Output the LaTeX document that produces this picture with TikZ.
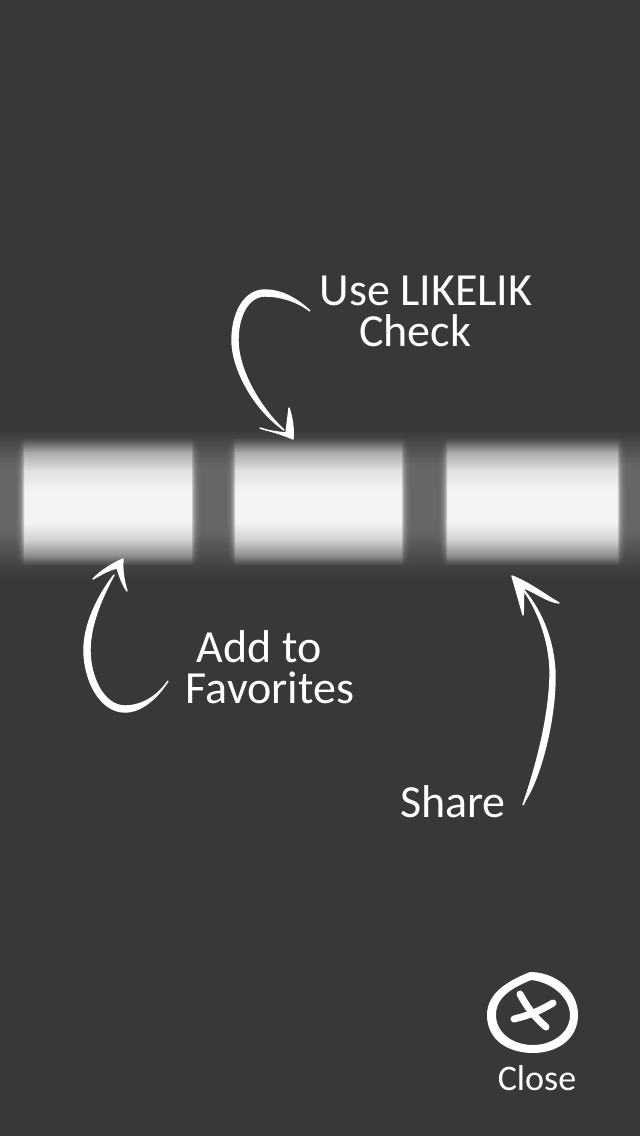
\documentclass[tikz,border=0pt]{standalone}
\usepackage{fontspec}
\setmainfont{Carlito}
\usepackage{tikz}
\usetikzlibrary{positioning}
\definecolor{figbg}{RGB}{56,56,56}
\definecolor{figgap}{RGB}{100,100,100}
\definecolor{figbox}{RGB}{243,243,243}
\definecolor{figedge}{RGB}{70,70,70}
\pgfdeclareverticalshading{gapband}{100bp}{%
  color(0bp)=(figbg); color(25bp)=(figbg); color(41bp)=(figgap);
  color(62.67bp)=(figgap); color(75bp)=(figbg); color(100bp)=(figbg)}
\tikzset{
  chalk/.style ={fill=white,draw=white,line width=1.4pt,line join=round},
  chalkx/.style={draw=white,line width=7pt,line cap=round},
  hint/.style  ={text=white,inner sep=0pt,align=center,font=\fontsize{46}{41}\selectfont},
  hintb/.style ={hint,font=\fontsize{36}{36}\selectfont},
}
% gap between two keys, blurred at both sides
\newcommand{\blurgap}[2]{%
  \foreach \k in {0,...,9}{%
    \shade[shading=gapband,opacity=0.3] (#1-2+\k,428) rectangle (#2+2-\k,578);
  }%
}
\begin{document}
\begin{tikzpicture}[x=1pt,y=-1pt]
  \useasboundingbox (0,0) rectangle (640,1136);
  \fill[figbg] (0,0) rectangle (640,1136);
  % strip behind the keys
  \shade[shading=gapband] (0,428) rectangle (640,578);
  \fill[top color=figedge,bottom color=figbox!57!figedge] (0,438) rectangle (640,452.5);
  \fill[top color=figbox!57!figedge,bottom color=figbox!89!figedge] (0,452) rectangle (640,470.5);
  \fill[top color=figbox!89!figedge,bottom color=figbox] (0,470) rectangle (640,490.5);
  \fill[figbox] (0,490) rectangle (640,522.5);
  \fill[top color=figbox,bottom color=figbox!80!figedge] (0,522) rectangle (640,540.5);
  \fill[top color=figbox!80!figedge,bottom color=figbox!39!figedge] (0,540) rectangle (640,556.5);
  \fill[top color=figbox!39!figedge,bottom color=figedge] (0,556) rectangle (640,565);
  \blurgap{-20}{22}
  \blurgap{194}{233}
  \blurgap{404}{445}
  \blurgap{620}{660}
  % labels
  \node[hint] (useLabel) at (426,311) {Use LIKELIK\\\hspace*{-22pt}Check};
  \node[hint] (addLabel) at (270,667) {\hspace*{-22pt}Add to\\Favorites};
  \node[hint] (shareLabel) at (453,802) {Share};
  \node[hintb] (closeLabel) at (537,1078) {Close};
  \coordinate (useFrom) at (310,311);
  \coordinate (useTip) at (293,439);
  \coordinate (addFrom) at (168,681);
  \coordinate (addTip) at (123,559);
  \coordinate (shareFrom) at (523,805);
  \coordinate (shareTip) at (512,576);
  % use arrow
  \fill[chalk] (useFrom) .. controls (295,297) and (280,290) .. (265,290)
    .. controls (243,290) and (232,315) .. (232,340)
    .. controls (232,370) and (255,410) .. (284,430)
    .. controls (260,408) and (238,370) .. (238,340)
    .. controls (238,318) and (247,296) .. (265,296)
    .. controls (280,296) and (297,301) .. (useFrom);
  \fill[chalk] (260,428) .. controls (270,431) and (282,434) .. (useTip)
    .. controls (294,428) and (292,417) .. (289,408)
    .. controls (288,417) and (287,425) .. (286,433)
    .. controls (277,432) and (268,431) .. cycle;
  % favorites arrow
  \fill[chalk] (addFrom) .. controls (158,697) and (142,712) .. (125,712)
    .. controls (100,712) and (84,680) .. (84,650)
    .. controls (84,625) and (97,597) .. (114,575)
    .. controls (102,597) and (90,625) .. (90,650)
    .. controls (90,678) and (104,706) .. (125,706)
    .. controls (142,706) and (158,696) .. (addFrom);
  \fill[chalk] (93,579) .. controls (102,570) and (112,564) .. (addTip)
    .. controls (122,570) and (124,582) .. (127,591)
    .. controls (122,584) and (119,574) .. (117,568)
    .. controls (108,570) and (100,575) .. cycle;
  % share arrow
  \fill[chalk] (shareFrom) .. controls (535,770) and (549,720) .. (550,677)
    .. controls (551,650) and (542,615) .. (522,588)
    .. controls (546,615) and (555,650) .. (555,677)
    .. controls (555,720) and (541,775) .. (526,799)
    .. controls (524,802) and (524,804) .. (shareFrom);
  \fill[chalk] (523,615) .. controls (520,604) and (516,590) .. (shareTip)
    .. controls (530,583) and (545,595) .. (559,603)
    .. controls (548,602) and (535,592) .. (524,588)
    .. controls (523,597) and (524,606) .. cycle;
  % close button
  \fill[white,even odd rule] (487,1015) .. controls (487,992) and (510,980) .. (530,972)
    .. controls (555,972) and (578,990) .. (578,1015)
    .. controls (578,1040) and (556,1053) .. (533,1053)
    .. controls (508,1053) and (487,1040) .. (487,1015) -- cycle
    (496,1015) .. controls (496,997) and (512,988) .. (531,980)
    .. controls (552,982) and (570,998) .. (570,1015)
    .. controls (570,1033) and (552,1045) .. (533,1045)
    .. controls (513,1045) and (496,1033) .. (496,1015) -- cycle;
  \coordinate (crossA) at (520,994);
  \coordinate (crossB) at (546,1027);
  \coordinate (crossC) at (514,1019);
  \coordinate (crossD) at (553,1003);
  \draw[chalkx] (crossA) to[bend right=10] (crossB);
  \draw[chalkx] (crossC) to[bend right=8] (crossD);
\end{tikzpicture}
\end{document}
